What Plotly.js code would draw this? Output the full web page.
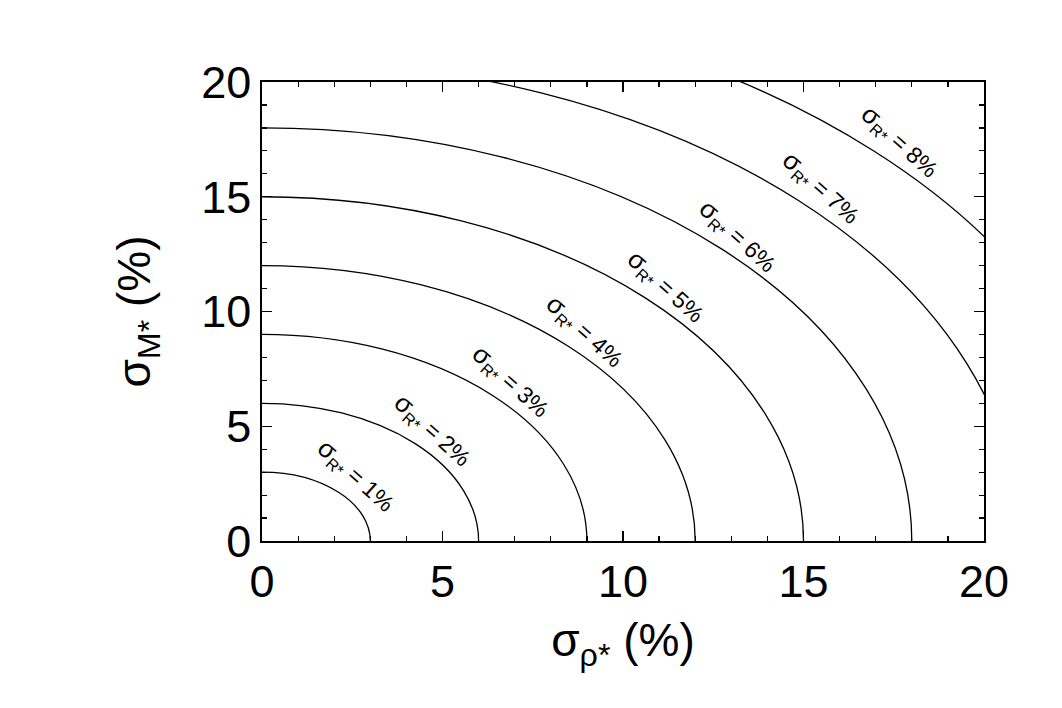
<!DOCTYPE html>
<html>
<head>
<meta charset="utf-8">
<script src="https://cdn.plot.ly/plotly-3.0.1.min.js"></script>
<style>html,body{margin:0;padding:0;background:#fff}#chart{width:1062px;height:708px}</style>
</head>
<body>
<div id="chart"></div>
<script>
// σ_R* contour levels (%) and where each contour meets the axes (%)
const levels = [1, 2, 3, 4, 5, 6, 7, 8];
const axisIntercepts = [3, 6, 9, 12, 15, 18, 21, 24];
const xTickVals = [0, 5, 10, 15, 20];
const yTickVals = [0, 5, 10, 15, 20];

// label anchor positions (data coords), layout only
const labelPosX = [2.60, 4.71, 6.87, 8.92, 11.19, 13.16, 15.48, 17.67];
const labelPosY = [2.83, 4.84, 6.97, 9.15, 11.07, 13.29, 15.38, 17.39];

const FONT = "Liberation Sans, Arial, Helvetica, sans-serif";

const shapes = axisIntercepts.map(r => ({
  type: 'circle', xref: 'x', yref: 'y',
  x0: -r, y0: -r, x1: r, y1: r,
  line: {color: 'black', width: 1.3}, layer: 'above'
}));

const annotations = levels.map((lv, i) => ({
  x: labelPosX[i], y: labelPosY[i], xref: 'x', yref: 'y',
  text: '<span style="font-size:26px">σ</span><sub>R*</sub> = ' + lv + '%',
  showarrow: false, textangle: 42,
  font: {family: FONT, size: 23, color: 'black'}
}));

const axisCommon = {
  range: [0, 20], showgrid: false, zeroline: false,
  showline: true, linecolor: 'black', linewidth: 1.6, mirror: 'ticks',
  ticks: 'inside', ticklen: 10, tickwidth: 1.2, tickcolor: 'black',
  tickfont: {family: FONT, size: 45, color: 'black'},
  minor: {dtick: 1, ticks: 'inside', ticklen: 5, tickwidth: 1.2, tickcolor: 'black', showgrid: false}
};

const layout = {
  width: 1062, height: 708,
  paper_bgcolor: 'white', plot_bgcolor: 'white',
  margin: {l: 262, r: 78, t: 82, b: 167},
  showlegend: false,
  xaxis: Object.assign({}, axisCommon, {
    tickvals: xTickVals, ticktext: xTickVals.map(String),
    title: {text: 'σ<sub>ρ*</sub> (%)', font: {family: FONT, size: 46, color: 'black'}, standoff: 18}
  }),
  yaxis: Object.assign({}, axisCommon, {
    tickvals: yTickVals, ticktext: yTickVals.map(String),
    title: {text: 'σ<sub>M*</sub> (%)', font: {family: FONT, size: 46, color: 'black'}, standoff: 36}
  }),
  shapes: shapes,
  annotations: annotations
};

// invisible trace to establish the axes
const traces = [{x: [0, 20], y: [0, 20], mode: 'markers', marker: {opacity: 0}, hoverinfo: 'skip', type: 'scatter'}];

Plotly.newPlot('chart', traces, layout, {displayModeBar: false, staticPlot: true});
</script>
</body>
</html>
